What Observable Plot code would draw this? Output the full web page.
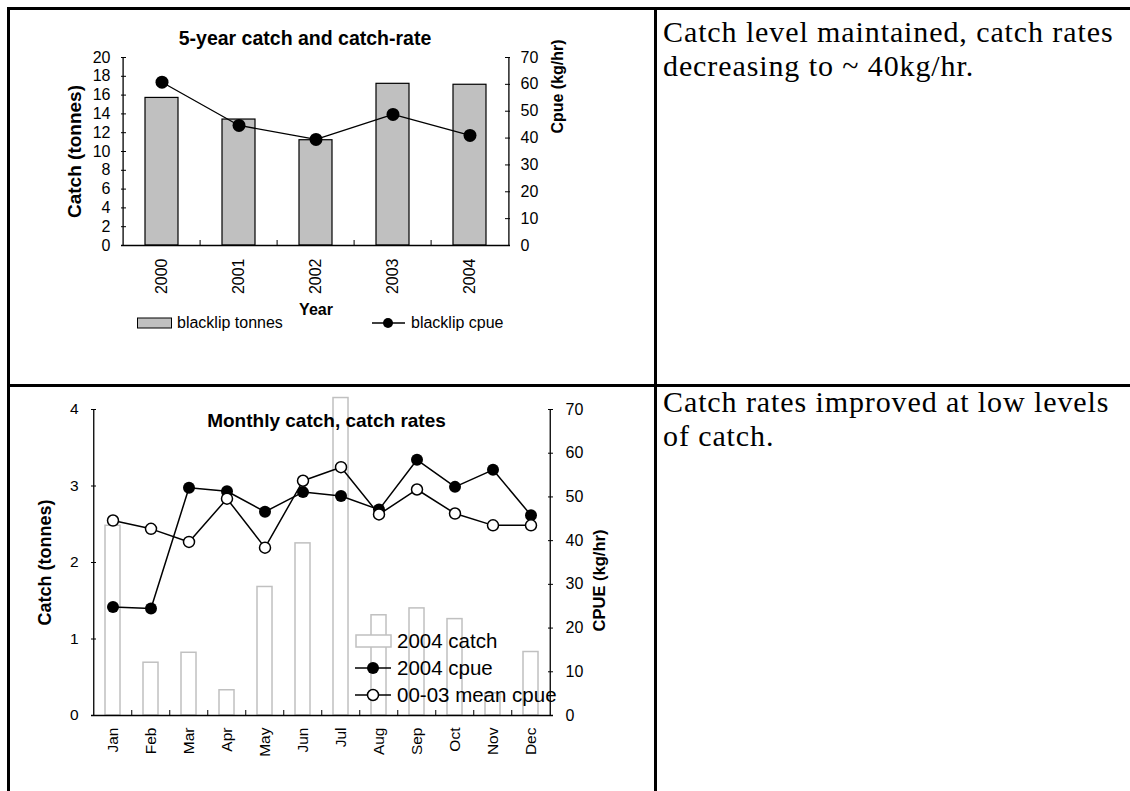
<!DOCTYPE html>
<html><head><meta charset="utf-8">
<script src="https://cdn.jsdelivr.net/npm/d3@7"></script>
<script src="https://cdn.jsdelivr.net/npm/@observablehq/plot@0.6"></script>
<style>
html,body{margin:0;padding:0;background:#fff;}
#page{position:relative;width:1130px;height:791px;overflow:hidden;font-family:"Liberation Sans",Arial,sans-serif;color:#000;}
.pl{position:absolute;left:0;}
.ln{position:absolute;background:#000;}
.note{position:absolute;left:663px;width:470px;font-family:"Liberation Serif","Times New Roman",serif;font-size:30px;letter-spacing:0.9px;line-height:33.5px;white-space:nowrap;}
.leg{position:absolute;display:flex;align-items:center;white-space:nowrap;}
.leg svg{display:block;margin-right:4px;}
#err{position:absolute;left:20px;top:100px;color:red;font-size:12px;white-space:pre-wrap;width:600px;}
</style></head><body>
<div id="page">
  <div class="ln" style="left:7px;top:7px;width:1123px;height:2.5px"></div>
  <div class="ln" style="left:7px;top:7px;width:2.5px;height:784px"></div>
  <div class="ln" style="left:7px;top:384px;width:1123px;height:2.5px"></div>
  <div class="ln" style="left:654px;top:7px;width:2.5px;height:784px"></div>
  <div class="note" style="top:15px">Catch level maintained, catch rates<br>decreasing to ~ 40kg/hr.</div>
  <div class="note" style="top:385px">Catch rates improved at low levels<br>of catch.</div>
  <div id="c1" class="pl" style="top:0;width:580px;height:340px"></div>
  <div id="c2" class="pl" style="top:384px;width:660px;height:407px"></div>
  <div class="leg" style="left:137px;top:313px;font-size:16px">
    <svg width="36" height="20"><rect x="0.5" y="5" width="34" height="10" fill="#c0c0c0" stroke="#000"/></svg><span>blacklip tonnes</span>
  </div>
  <div class="leg" style="left:371px;top:313px;font-size:16px">
    <svg width="36" height="20"><line x1="1" x2="34" y1="10" y2="10" stroke="#000" stroke-width="1.3"/><circle cx="17" cy="10" r="5" fill="#000"/></svg><span>blacklip cpue</span>
  </div>
  <div class="leg" style="left:355px;top:628px;font-size:20.5px">
    <svg width="38" height="26"><rect x="1" y="7" width="35" height="12" fill="#fff" stroke="#c0c0c0" stroke-width="1.5"/></svg><span>2004 catch</span>
  </div>
  <div class="leg" style="left:355px;top:655px;font-size:20.5px">
    <svg width="38" height="26"><line x1="0" x2="36" y1="13" y2="13" stroke="#000" stroke-width="1.5"/><circle cx="18" cy="13" r="6" fill="#000"/></svg><span>2004 cpue</span>
  </div>
  <div class="leg" style="left:355px;top:682px;font-size:20.5px">
    <svg width="38" height="26"><line x1="0" x2="36" y1="13" y2="13" stroke="#000" stroke-width="1.5"/><circle cx="18" cy="13" r="5.5" fill="#fff" stroke="#000" stroke-width="1.5"/></svg><span>00-03 mean cpue</span>
  </div>
  <div id="err"></div>
</div>
<script>
// ---- Data: 5-year chart ----
const years = ["2000", "2001", "2002", "2003", "2004"];
const blacklipTonnes = [15.7, 13.4, 11.2, 17.2, 17.1];
const blacklipCpue = [60.8, 44.7, 39.5, 48.8, 41.0];
const tonnesTicks = [0, 2, 4, 6, 8, 10, 12, 14, 16, 18, 20];
const cpueTicksTop = [0, 10, 20, 30, 40, 50, 60, 70];

// ---- Data: monthly chart ----
const months = ["Jan", "Feb", "Mar", "Apr", "May", "Jun", "Jul", "Aug", "Sep", "Oct", "Nov", "Dec"];
const catch2004 = [2.48, 0.69, 0.82, 0.33, 1.68, 2.25, 4.15, 1.31, 1.40, 1.26, 0.29, 0.83];
const cpue2004 = [24.8, 24.5, 52.1, 51.3, 46.6, 51.1, 50.2, 47.1, 58.5, 52.3, 56.2, 45.8];
const cpueMean0003 = [44.6, 42.7, 39.7, 49.6, 38.4, 53.7, 56.8, 46.0, 51.7, 46.2, 43.5, 43.5];
const catchTicks = [0, 1, 2, 3, 4];
const cpueTicksBottom = [0, 10, 20, 30, 40, 50, 60, 70];

try {
const FONT = "Liberation Sans, Arial, sans-serif";
const fmt = d => String(d);
function common(L, fs) {
  return {
    width: L.w, height: L.h,
    marginLeft: L.ml, marginRight: L.mr, marginTop: L.mt, marginBottom: L.mb,
    style: {background: "transparent", overflow: "visible", fontFamily: FONT, fontSize: fs + "px", color: "#000",
            position: "absolute", left: "0px", top: "0px", maxWidth: "none", width: L.w + "px", height: L.h + "px"}
  };
}
const lbl = {fontWeight: "bold", textAnchor: "middle", lineAnchor: "middle"};

// ---------- Chart 1 ----------
const d1 = years.map((y, i) => ({year: y, tonnes: blacklipTonnes[i], cpue: blacklipCpue[i]}));
const L1 = {w: 580, h: 340, ml: 121, mr: 70, mt: 57, mb: 95};
const pw1 = L1.w - L1.ml - L1.mr, ph1 = L1.h - L1.mt - L1.mb;
const step1 = pw1 / years.length;
const x1 = {type: "band", domain: years, paddingInner: 0.575, paddingOuter: 0.2875};

const c1a = Plot.plot({
  ...common(L1, 16),
  x: {...x1, axis: "bottom", tickSize: 0, tickRotate: -90, tickPadding: 13, label: null},
  y: {domain: [0, 20], axis: "left", ticks: tonnesTicks, tickFormat: fmt, tickSize: 0, tickPadding: 11, label: null},
  marks: [
    Plot.barY(d1, {x: "year", y: "tonnes", fill: "#c0c0c0", stroke: "#000", strokeWidth: 1.2}),
    Plot.tickY(tonnesTicks, {y: d => d, stroke: "#000", insetRight: pw1 - 5}),
    Plot.tickX(years.slice(1), {x: d => d, dx: -step1 / 2, insetTop: ph1 - 5, stroke: "#000"}),
    Plot.ruleY([0], {stroke: "#000", strokeWidth: 1.3}),
    Plot.ruleX([years[0]], {dx: -step1 / 2, stroke: "#000", strokeWidth: 1.3}),
    Plot.text(["5-year catch and catch-rate"], {...lbl, frameAnchor: "top", dx: -11, dy: -19, fontSize: 19.5}),
    Plot.text(["Catch (tonnes)"], {...lbl, frameAnchor: "left", rotate: -90, dx: -47, fontSize: 19}),
    Plot.text(["Year"], {...lbl, frameAnchor: "bottom", dy: 64, fontSize: 16})
  ]
});
const c1b = Plot.plot({
  ...common(L1, 16),
  x: {...x1, axis: null},
  y: {domain: [0, 70], axis: "right", ticks: cpueTicksTop, tickFormat: fmt, tickSize: 0, tickPadding: 10, label: null},
  marks: [
    Plot.tickY(cpueTicksTop, {y: d => d, stroke: "#000", insetLeft: pw1 - 5}),
    Plot.ruleX([years[years.length - 1]], {dx: step1 / 2, stroke: "#000", strokeWidth: 1.3}),
    Plot.line(d1, {x: "year", y: "cpue", stroke: "#000", strokeWidth: 1.3}),
    Plot.dot(d1, {x: "year", y: "cpue", r: 6.5, fill: "#000"}),
    Plot.text(["Cpue (kg/hr)"], {...lbl, frameAnchor: "top-right", rotate: -90, dx: 47, dy: 29, fontSize: 16})
  ]
});
document.getElementById("c1").append(c1a, c1b);

// ---------- Chart 2 ----------
const d2 = months.map((m, i) => ({month: m, catch: catch2004[i], cpue: cpue2004[i], mean: cpueMean0003[i]}));
const L2 = {w: 660, h: 407, ml: 91, mr: 107, mt: 25, mb: 76};
const pw2 = L2.w - L2.ml - L2.mr, ph2 = L2.h - L2.mt - L2.mb;
const step2 = pw2 / months.length;
const x2 = {type: "band", domain: months, paddingInner: 0.595, paddingOuter: 0.2975};

const c2a = Plot.plot({
  ...common(L2, 15.5),
  x: {...x2, axis: "bottom", tickSize: 0, tickRotate: -90, tickPadding: 12, label: null},
  y: {domain: [0, 4], axis: "left", ticks: catchTicks, tickFormat: fmt, tickSize: 0, tickPadding: 13, label: null},
  marks: [
    Plot.barY(d2, {x: "month", y: "catch", fill: "none", stroke: "#c0c0c0", strokeWidth: 1.5}),
    Plot.tickY(catchTicks, {y: d => d, stroke: "#000", insetRight: pw2 - 5}),
    Plot.tickX(months.slice(1), {x: d => d, dx: -step2 / 2, insetTop: ph2 - 5, stroke: "#000"}),
    Plot.ruleY([0], {stroke: "#000", strokeWidth: 1.5}),
    Plot.ruleX([months[0]], {dx: -step2 / 2, stroke: "#000", strokeWidth: 1.3}),
    Plot.text(["Monthly catch, catch rates"], {...lbl, frameAnchor: "top", dx: 4, dy: 11, fontSize: 19}),
    Plot.text(["Catch (tonnes)"], {...lbl, frameAnchor: "left", rotate: -90, dx: -46, fontSize: 18})
  ]
});
const c2b = Plot.plot({
  ...common(L2, 16),
  x: {...x2, axis: null},
  y: {domain: [0, 70], axis: "right", ticks: cpueTicksBottom, tickFormat: fmt, tickSize: 0, tickPadding: 12, label: null},
  marks: [
    Plot.tickY(cpueTicksBottom, {y: d => d, stroke: "#000", insetLeft: pw2 - 5}),
    Plot.ruleX([months[months.length - 1]], {dx: step2 / 2, stroke: "#000", strokeWidth: 1.3}),
    Plot.line(d2, {x: "month", y: "cpue", stroke: "#000", strokeWidth: 1.5}),
    Plot.line(d2, {x: "month", y: "mean", stroke: "#000", strokeWidth: 1.5}),
    Plot.dot(d2, {x: "month", y: "cpue", r: 6, fill: "#000"}),
    Plot.dot(d2, {x: "month", y: "mean", r: 5.5, fill: "#fff", stroke: "#000", strokeWidth: 1.5}),
    Plot.text(["CPUE (kg/hr)"], {...lbl, frameAnchor: "right", rotate: -90, dx: 46, dy: 18, fontSize: 16.5})
  ]
});
document.getElementById("c2").append(c2a, c2b);
} catch (e) {
  document.getElementById("err").textContent = String(e && e.stack || e) + "\nPlot version: " + (window.Plot && Plot.version);
}
</script>
</body></html>
